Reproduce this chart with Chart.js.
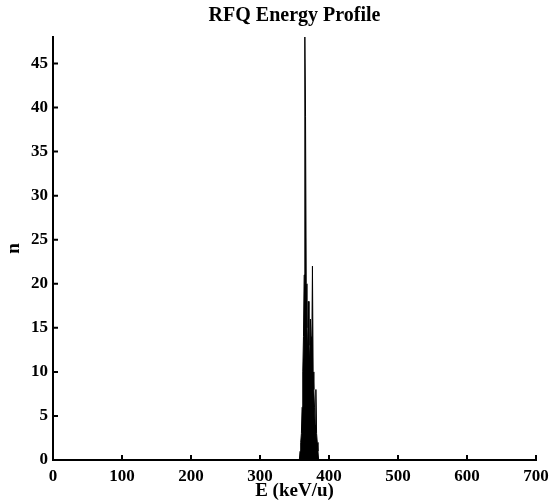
<!DOCTYPE html>
<html>
<head>
<meta charset="utf-8">
<script src="https://cdn.jsdelivr.net/npm/chart.js@4/dist/chart.umd.min.js"></script>
<style>
  html, body { margin: 0; padding: 0; background: #fff; }
  #wrap { width: 549px; height: 502px; }
</style>
</head>
<body>
<div id="wrap"><canvas id="c"></canvas></div>
<script>
// ── 数据 ──
const energy = [357, 358, 359, 360, 361, 362, 363, 364, 365, 366, 367, 368, 369, 370, 371,
                372, 373, 374, 375, 376, 377, 378, 379, 380, 381, 382, 383, 384, 385];
const counts = [0, 1, 2, 3, 6, 10, 14, 21, 48, 39, 20, 15, 12, 18, 13,
                11, 16, 14, 12, 22, 10, 8, 6, 4, 8, 3, 2, 1, 0];
const xTicks = [0, 100, 200, 300, 400, 500, 600, 700];
const yTicks = [0, 5, 10, 15, 20, 25, 30, 35, 40, 45];
const titleText = 'RFQ Energy Profile';

const FONT = '"Liberation Serif", "Times New Roman", serif';

// 标题居中于绘图区 + 刻度线朝内
const decor = {
  id: 'decor',
  afterDraw(chart) {
    const { ctx, chartArea: a, scales: { x, y } } = chart;
    ctx.save();
    ctx.strokeStyle = '#000';
    ctx.lineWidth = 2;
    ctx.beginPath();
    xTicks.forEach(v => {
      const px = x.getPixelForValue(v);
      ctx.moveTo(px, a.bottom);
      ctx.lineTo(px, a.bottom - 5);
    });
    yTicks.forEach(v => {
      const py = y.getPixelForValue(v);
      ctx.moveTo(a.left, py);
      ctx.lineTo(a.left + 5, py);
    });
    ctx.stroke();

    ctx.fillStyle = '#000';
    ctx.font = 'bold 20px ' + FONT;
    ctx.textAlign = 'center';
    ctx.textBaseline = 'alphabetic';
    ctx.fillText(titleText, (a.left + a.right) / 2, 21);
    ctx.restore();
  }
};

new Chart(document.getElementById('c'), {
  type: 'line',
  data: {
    datasets: [{
      data: energy.map((e, i) => ({ x: e, y: counts[i] })),
      borderColor: '#000',
      backgroundColor: '#000',
      borderWidth: 1,
      pointRadius: 0,
      fill: 'origin',
      tension: 0,
    }]
  },
  options: {
    responsive: true,
    maintainAspectRatio: false,
    animation: false,
    layout: { padding: { left: 0, right: 0, top: 37, bottom: 0 } },
    plugins: {
      legend: { display: false },
      tooltip: { enabled: false },
      title: { display: false },
    },
    scales: {
      x: {
        type: 'linear',
        min: 0, max: 700,
        afterBuildTicks: s => { s.ticks = xTicks.map(v => ({ value: v })); },
        afterFit: s => { s.height = 42; s.paddingLeft = 0; s.paddingRight = 13; },
        grid: { display: false, drawTicks: false },
        border: { color: '#000', width: 2 },
        ticks: { color: '#000', padding: 6, maxRotation: 0, font: { family: FONT, size: 17, weight: 'bold' } },
        title: {
          display: true, text: 'E (keV/u)', color: '#000',
          font: { family: FONT, size: 19, weight: 'bold' },
          padding: { top: 0, bottom: 0 },
        },
      },
      y: {
        min: 0, max: 48,
        afterBuildTicks: s => { s.ticks = yTicks.map(v => ({ value: v })); },
        afterFit: s => { s.width = 53; },
        grid: { display: false, drawTicks: false },
        border: { color: '#000', width: 2 },
        ticks: { color: '#000', padding: 5, font: { family: FONT, size: 17, weight: 'bold' } },
        title: {
          display: true, text: 'n', color: '#000',
          font: { family: FONT, size: 19, weight: 'bold' },
          padding: { top: 3, bottom: 0 },
        },
      },
    },
  },
  plugins: [decor],
});
</script>
</body>
</html>
